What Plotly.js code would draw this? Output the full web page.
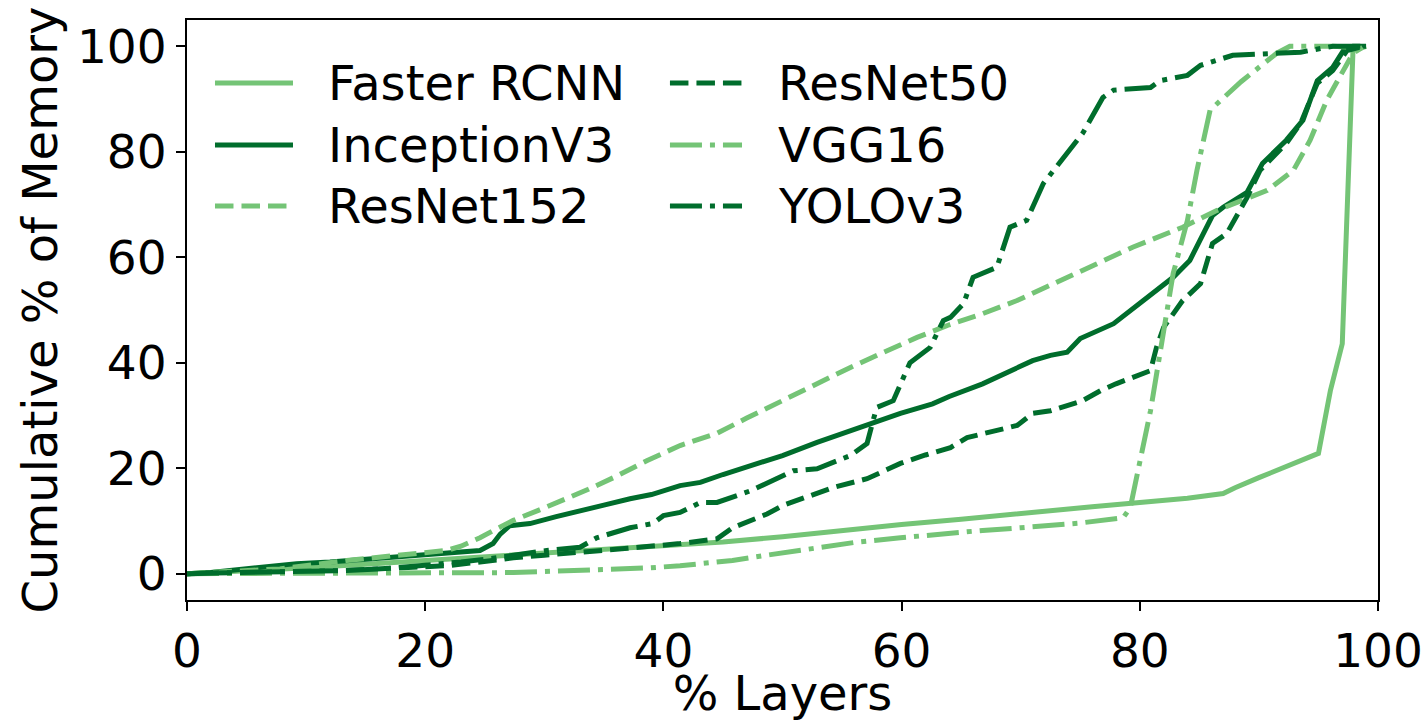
<!DOCTYPE html>
<html>
<head>
<meta charset="utf-8">
<script src="https://cdn.plot.ly/plotly-3.0.1.min.js"></script>
<style>html,body{margin:0;padding:0;background:#fff}#chart{width:1428px;height:721px}</style>
</head>
<body>
<div id="chart"></div>
<script>
// ---- data ----
const seriesNames = ["Faster RCNN", "InceptionV3", "ResNet152", "ResNet50", "VGG16", "YOLOv3"];

const fasterX = [0, 2, 5, 10, 15, 20, 25, 30, 35, 40, 45, 50, 55, 60, 65, 68, 72, 76, 80, 84, 87, 88, 90, 92, 93.5, 95, 96, 97, 97.9, 99];
const fasterY = [0, 0.2, 0.6, 1.1, 1.8, 2.5, 3.2, 3.9, 4.5, 5.1, 6, 7, 8.2, 9.3, 10.3, 11, 11.9, 12.7, 13.5, 14.3, 15.2, 16.3, 18.2, 20.1, 21.3, 22.8, 34.7, 43.6, 99.2, 100];

const inceptionX = [0, 2, 3.6, 6, 9.2, 12, 16.2, 20, 24.6, 25.7, 26.3, 27.1, 28.8, 31, 33, 35, 37.2, 39, 41.4, 43.1, 45, 48.7, 50, 52.9, 55.7, 57, 59.9, 62.6, 64, 66.8, 69, 71, 72.5, 73.9, 75, 77.8, 80.3, 82.8, 84.2, 86.1, 87, 89, 90.3, 92.3, 93.7, 94.9, 96.2, 97.1, 97.9, 99];
const inceptionY = [0, 0.2, 0.6, 1.1, 1.9, 2.2, 3.0, 3.5, 4.4, 5.7, 7.5, 9.1, 9.5, 10.8, 12, 13, 14.2, 15, 16.7, 17.3, 18.8, 21.4, 22.4, 24.9, 27.1, 28.1, 30.4, 32.2, 33.6, 36, 38.2, 40.4, 41.4, 42, 44.6, 47.4, 51.8, 56.2, 59.4, 67.9, 69.5, 72.3, 77.8, 82.2, 86, 93.5, 96, 99.2, 100, 100];

const resnet152X = [0, 4, 7.8, 13.4, 17, 21.8, 23, 24.6, 26, 27.4, 29.5, 31.6, 33.7, 35.8, 38.6, 41.4, 44.5, 47, 50, 52.8, 55.7, 58.5, 61.3, 64, 66.8, 69.7, 71.8, 73.9, 76.6, 79.4, 83.6, 86.5, 90.7, 92.9, 94.3, 95.7, 97.9, 98.7];
const resnet152Y = [0, 0.4, 0.9, 2.5, 3.3, 4.4, 5.2, 6.8, 8.5, 10.1, 12, 13.9, 16, 18.2, 21.4, 24.3, 26.6, 29.5, 32.8, 36, 39.1, 42, 44.8, 47.2, 49.3, 51.8, 54, 56.2, 59, 61.9, 65.7, 68.9, 72.7, 76.5, 82.2, 89.8, 98.7, 99.8];

const resnet50X = [0, 5, 10, 13.4, 17, 21.8, 24.6, 27.4, 30, 33, 37, 41.4, 44.5, 45.8, 48.7, 50, 52, 54.2, 57.1, 58.5, 59.9, 62, 64.1, 65.5, 67.5, 69.7, 71, 72.5, 75.2, 76.7, 78, 79.4, 80.9, 81.4, 82, 83.6, 85.1, 86.1, 87.3, 89, 90.1, 92.3, 93.5, 94.9, 96.2, 97.4, 98.7];
const resnet50Y = [0, 0.2, 0.4, 0.6, 1, 1.5, 2.2, 3, 3.5, 4, 4.8, 5.7, 6.6, 8.7, 11.3, 12.9, 14.5, 16.3, 18, 19.5, 20.9, 22.5, 23.9, 25.8, 26.8, 28.1, 30.4, 30.9, 32.8, 34.7, 36, 37.2, 38.5, 42.9, 46.7, 51.8, 55, 62.6, 64.5, 71.3, 76.5, 81.6, 85.4, 93, 95.4, 99.2, 100];

const vggX = [0, 10, 20, 25, 27.4, 30, 35, 38.9, 41.4, 45.8, 49, 52.9, 56, 59.9, 63, 66.8, 70, 72.5, 75, 78.6, 79.2, 80.9, 82.5, 82.8, 84, 84.8, 85.9, 88.5, 91.5, 92.6, 96.2, 97.9];
const vggY = [0, 0, 0.1, 0.15, 0.2, 0.4, 0.7, 1.1, 1.5, 2.5, 3.6, 5, 5.9, 6.8, 7.5, 8.2, 8.7, 9.1, 9.6, 10.6, 12.5, 30.9, 51.8, 56.9, 67, 76.5, 87.9, 93.3, 98.7, 100, 100, 99.8];

const yoloX = [0, 5, 10, 13.4, 17, 20, 23, 26, 28, 30.2, 33, 34.4, 37.2, 39.1, 40, 41.4, 43.1, 44.5, 47.3, 50.9, 52.9, 55.7, 57.1, 57.9, 59.3, 60.7, 62.4, 63.5, 64.1, 65.2, 66, 68, 69.1, 70.5, 71.9, 75.2, 76.9, 77.8, 80.9, 81.7, 84, 85.1, 87.8, 93.5, 96.2, 99];
const yoloY = [0, 0.2, 0.4, 0.6, 1, 1.5, 2.2, 3, 3.7, 4.4, 5, 6.8, 8.7, 9.5, 11, 11.6, 13.5, 13.5, 15.7, 19.5, 19.9, 22.4, 24.7, 31.5, 32.8, 40, 42.9, 48, 48.6, 51.2, 56.2, 58.1, 65.7, 67, 74, 83.5, 90.3, 91.7, 92.2, 93.5, 94.5, 96.4, 98.3, 98.9, 100, 100];

const xTicks = [0, 20, 40, 60, 80, 100];
const yTicks = [0, 20, 40, 60, 80, 100];
const xTitle = "% Layers";
const yTitle = "Cumulative % of Memory";

// ---- styles ----
const LIGHT = "#74c476", DARK = "#006d2c";
const DASH = "18.5px,8px";
const DASHDOT = "32px,8px,5px,8px";
const LW = 5;
const FONT = "DejaVu Sans, sans-serif";
const FS = 48;
const TFS = 47;

const xs = [fasterX, inceptionX, resnet152X, resnet50X, vggX, yoloX];
const ys = [fasterY, inceptionY, resnet152Y, resnet50Y, vggY, yoloY];
const colors = [LIGHT, DARK, LIGHT, DARK, LIGHT, DARK];
const dashes = ["solid", "solid", DASH, DASH, DASHDOT, DASHDOT];

const traces = seriesNames.map((n, i) => ({
  type: "scatter", mode: "lines", name: n,
  x: xs[i], y: ys[i],
  line: {color: colors[i], width: LW, dash: dashes[i]},
  showlegend: false, hoverinfo: "skip"
}));

// manual legend (2 columns, column-major, as in the reference)
const legCols = [{x0: 0.0235, x1: 0.089, tx: 0.1165}, {x0: 0.4055, x1: 0.466, tx: 0.4945}];
const legRows = [0.8914, 0.7845, 0.6793];
const shapes = [], annotations = [];
seriesNames.forEach((n, i) => {
  const c = legCols[Math.floor(i / 3)], r = legRows[i % 3];
  shapes.push({type: "line", xref: "paper", yref: "paper", x0: c.x0, x1: c.x1, y0: r, y1: r,
    line: {color: colors[i], width: LW, dash: dashes[i]}});
  annotations.push({xref: "paper", yref: "paper", x: c.tx, y: r, xanchor: "left", yanchor: "middle",
    text: n, showarrow: false, font: {family: FONT, size: FS, color: "#000"}});
});

const axisCommon = {
  showline: true, mirror: true, linecolor: "#000", linewidth: 2,
  ticks: "outside", ticklen: 9, tickwidth: 2, tickcolor: "#000",
  showgrid: false, zeroline: false,
  tickfont: {family: FONT, size: TFS, color: "#000"}
};

const layout = {
  width: 1428, height: 721,
  margin: {l: 187, r: 50, t: 20, b: 121},
  paper_bgcolor: "#fff", plot_bgcolor: "#fff",
  xaxis: Object.assign({}, axisCommon, {
    range: [0, 100], tickvals: xTicks, ticktext: xTicks.map(String),
    title: {text: xTitle, font: {family: FONT, size: FS, color: "#000"}, standoff: 4}
  }),
  yaxis: Object.assign({}, axisCommon, {
    range: [-5, 105], tickvals: yTicks, ticktext: yTicks.map(String),
    title: {text: yTitle, font: {family: FONT, size: FS, color: "#000"}, standoff: 4}
  }),
  shapes: shapes, annotations: annotations,
  showlegend: false
};

Plotly.newPlot("chart", traces, layout, {staticPlot: true, displayModeBar: false});
</script>
</body>
</html>
